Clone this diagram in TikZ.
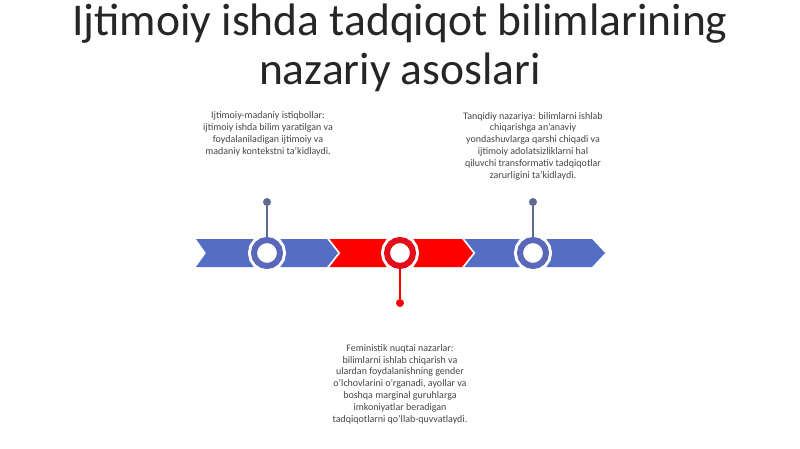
\documentclass[tikz,border=0pt]{standalone}
\usepackage{fontspec}
\setmainfont{Carlito}
\usepackage{tikz}
\definecolor{segblue}{RGB}{84,110,198}
\definecolor{ringblue}{RGB}{90,104,186}
\definecolor{stemblue}{RGB}{96,106,142}
\definecolor{segred}{RGB}{255,0,0}
\definecolor{ringred}{RGB}{228,14,26}
\definecolor{bodytext}{RGB}{70,70,70}
\tikzset{
  ring/.style={circle, draw=#1, line width=6pt, fill=white, inner sep=0pt,
    minimum size=26pt, preaction={draw=white, line width=12pt}},
  pin/.style={circle, fill=#1, inner sep=0pt, minimum size=8pt},
  stem/.style={draw=#1, line width=1.5pt},
  heading/.style={text={black!85}, font=\fontsize{45.5}{49}\selectfont, anchor=base},
  note/.style={text=bodytext, font=\fontsize{10}{11.8}\selectfont, align=center}
}
\begin{document}
\begin{tikzpicture}[x=1pt,y=-1pt]
      \useasboundingbox[fill=white] (0,0) rectangle (800,449);
      % title
      \node (title1) at (400,36) [heading] {Ijtimoiy ishda tadqiqot bilimlarining};
      \node (title2) at (400,85) [heading] {nazariy asoslari};
      % chevrons
      \fill[segblue] (196,239) -- (327,239) -- (338,253) -- (327,267) -- (196,267) -- (206,253) -- cycle;
      \fill[segred] (329.5,239) -- (462,239) -- (473,253) -- (462,267) -- (329.5,267) -- (340.5,253) -- cycle;
      \fill[segblue] (464.5,239) -- (592,239) -- (605,253) -- (592,267) -- (464.5,267) -- (475.5,253) -- cycle;
      % rings and pins
      \node (r1) at (267,253) [ring=ringblue] {};
      \node (r2) at (400,253) [ring=ringred] {};
      \node (r3) at (533,253) [ring=ringblue] {};
      \node (p1) at (267,202) [pin=stemblue] {};
      \node (p2) at (400,303) [pin=segred] {};
      \node (p3) at (533,202) [pin=stemblue] {};
      \draw[stem=stemblue] (p1) -- (r1);
      \draw[stem=segred] (p2) -- (r2);
      \draw[stem=stemblue] (p3) -- (r3);
      % notes
      \node (n1) at (268,134) [note] {Ijtimoiy-madaniy istiqbollar:\\ijtimoiy ishda bilim yaratilgan va\\foydalaniladigan ijtimoiy va\\madaniy kontekstni ta'kidlaydi.};
      \node (n3) at (533,146) [note] {Tanqidiy nazariya: bilimlarni ishlab\\chiqarishga an'anaviy\\yondashuvlarga qarshi chiqadi va\\ijtimoiy adolatsizliklarni hal\\qiluvchi transformativ tadqiqotlar\\zarurligini ta'kidlaydi.};
      \node (n2) at (400,384) [note] {Feministik nuqtai nazarlar:\\bilimlarni ishlab chiqarish va\\ulardan foydalanishning gender\\o'lchovlarini o'rganadi, ayollar va\\boshqa marginal guruhlarga\\imkoniyatlar beradigan\\tadqiqotlarni qo'llab-quvvatlaydi.};
    \end{tikzpicture}
\end{document}
